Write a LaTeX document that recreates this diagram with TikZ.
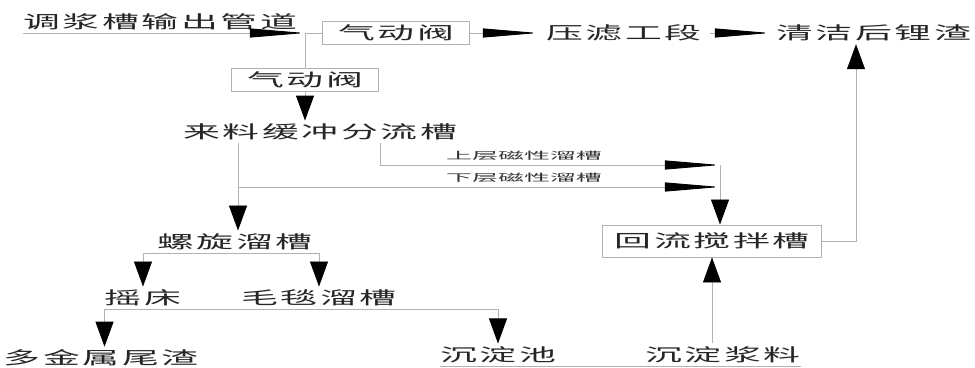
\documentclass[tikz,border=0pt]{standalone}
\usepackage{fontspec}
\usepackage{graphicx}
\usetikzlibrary{positioning,arrows.meta}
\newfontfamily\cjk[LetterSpace=7]{Noto Sans CJK SC}
\newfontfamily\cjksmall{Noto Sans CJK SC}
\newcommand{\wide}[1]{\scalebox{2.1}[1]{#1}}
\newcommand{\widetag}[1]{\scalebox{2.6}[1]{#1}}
\tikzset{
txt/.style={inner xsep=0pt, inner ysep=2pt, text=black!85, font=\cjk\fontsize{12.5}{13}\selectfont},
tag/.style={inner sep=0pt, text=black!80, font=\cjksmall\fontsize{7.1}{8}\selectfont},
valve/.style={txt, draw=gray!60, line width=0.6pt, minimum height=0.575cm, minimum width=3.675cm},
flow/.style={draw=gray!60, line width=0.6pt},
hconnect/.style={flow, -{Triangle[length=1.375cm, width=0.225cm, color=black]}},
vconnect/.style={flow, -{Triangle[length=0.625cm, width=0.45cm, color=black]}}
}

\begin{document}
\begin{tikzpicture}[x=0.025cm, y=-0.025cm]
        \useasboundingbox (0,0) rectangle (975,368);
        % top row
        \node[txt, anchor=south](pipe) at (160,33) {\wide{调浆槽输出管道}};
        \coordinate (split) at (305,33);
        \node[valve](valve1) at (396,33) {\wide{气动阀}};
        \node[valve](valve2) at (305,79.5) {\wide{气动阀}};
        \node[txt, anchor=west, inner xsep=0.2cm](press) at (538,33) {\wide{压滤工段}};
        \node[txt, anchor=west, inner xsep=0.15cm](clean) at (770,33) {\wide{清洁后锂渣}};

        % middle
        \node[txt, anchor=south](buffer) at (320,143) {\wide{来料缓冲分流槽}};
        \coordinate (tap_up) at (380,143);
        \coordinate (tap_down) at (238,143);
        \node[tag](upper) at (524,156) {\widetag{上层磁性溜槽}};
        \node[tag](lower) at (524,178) {\widetag{下层磁性溜槽}};
        \coordinate (merge_up) at (720,165);
        \coordinate (merge_down) at (720,187);
        \node[valve, minimum width=5.475cm, minimum height=0.8cm](mix) at (712,241) {\wide{回流搅拌槽}};
        \coordinate (riser) at (856,241);

        % bottom
        \node[txt, anchor=south](spiral) at (235,253) {\wide{螺旋溜槽}};
        \node[txt, anchor=south](shaker) at (143,309) {\wide{摇床}};
        \node[txt, anchor=south](felt) at (319,309) {\wide{毛毯溜槽}};
        \node[txt](tail) at (101,358) {\wide{多金属尾渣}};
        \node[txt, anchor=south](pool) at (498,366) {\wide{沉淀池}};
        \node[txt, anchor=south](slurry) at (723,366) {\wide{沉淀浆料}};

        \draw[hconnect](pipe.south west) to (split);
        \draw[flow](split) to (valve1.west);
        \draw[flow](split) to (valve2.north);
        \draw[hconnect](valve1.east) to (press.west);
        \draw[hconnect](press.east) to (clean.west);
        \draw[vconnect](valve2.south) to (valve2.south |- buffer.north);
        \draw[hconnect](tap_up) |- (merge_up);
        \draw[hconnect](tap_down) |- (merge_down);
        \draw[vconnect](merge_up) to (merge_up |- mix.north);
        \draw[vconnect](mix.east) -- (riser) -- (riser |- clean.south);
        \draw[vconnect](tap_down) to (tap_down |- spiral.north);
        \draw[vconnect](spiral.south) -| (shaker.north);
        \draw[vconnect](spiral.south) -| (felt.north);
        \draw[vconnect](shaker.south west) to (shaker.south west |- tail.north);
        \draw[vconnect](shaker.south west) -| (pool.north);
        \draw[flow](pool.south west) to (slurry.south east);
        \draw[vconnect](slurry.north -| mix.south) to (mix.south);
    \end{tikzpicture}
\end{document}
